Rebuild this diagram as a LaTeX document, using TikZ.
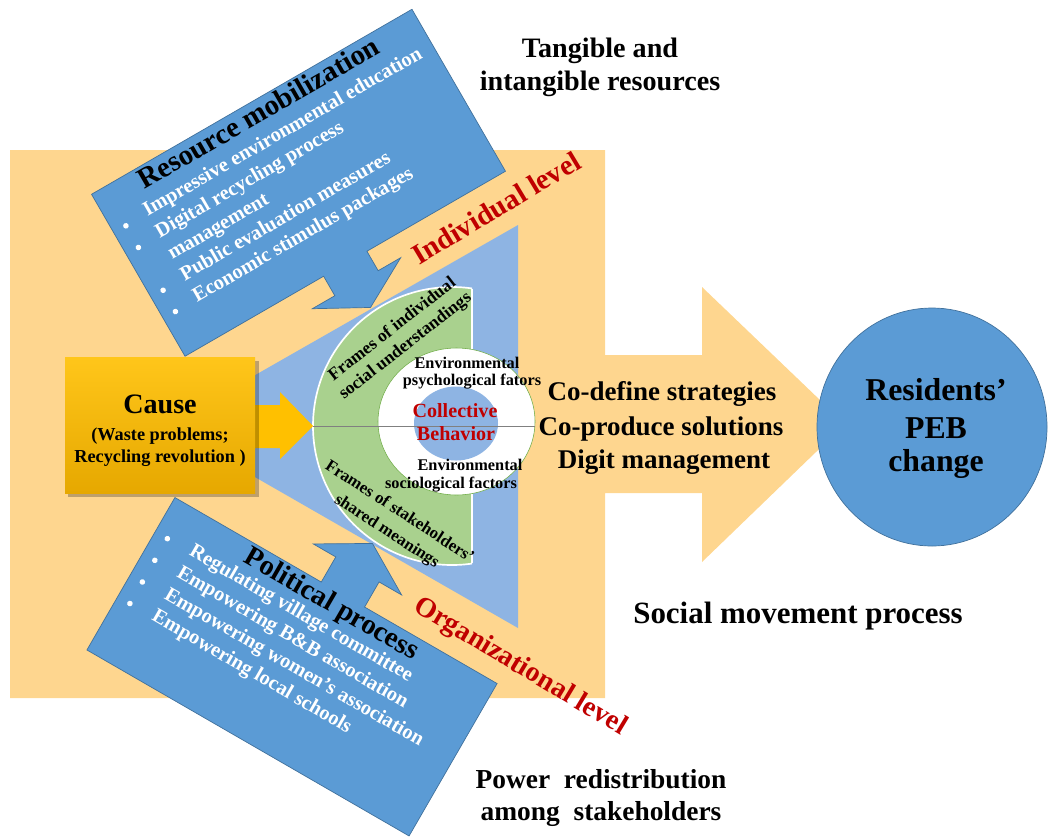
\documentclass[tikz,border=0pt]{standalone}
\usepackage{fontspec}
\setmainfont{Liberation Serif}
\definecolor{orangebg}{HTML}{FED68F}
\definecolor{lightblue}{HTML}{8EB4E3}
\definecolor{boxblue}{HTML}{5B9BD5}
\definecolor{boxedge}{HTML}{41719C}
\definecolor{greenring}{HTML}{A9D18E}
\definecolor{greenedge}{HTML}{70AD47}
\definecolor{darkred}{HTML}{C00000}
\definecolor{goldtop}{HTML}{FFC61A}
\definecolor{goldbot}{HTML}{E6A800}
\definecolor{arrowgold}{HTML}{FFC000}
\newcommand{\myfs}[2]{\fontsize{#1}{#2}\selectfont}
\tikzset{
  txt/.style={inner sep=0pt, font=\bfseries},
  wtxt/.style={txt, text=white, anchor=base west},
  rtxt/.style={txt, text=darkred},
  bul/.style={fill=white},
  callout/.style={fill=boxblue, draw=boxedge, line width=0.5pt},
}
\begin{document}
\begin{tikzpicture}[x=0.025cm,y=-0.025cm]
\useasboundingbox (0,0) rectangle (1049,836);
\clip (0,0) rectangle (1049,836);

% orange background with big arrow
\fill[orangebg] (10,150) -- (605,150) -- (605,355) -- (702,355) -- (702,287) -- (845,424)
  -- (702,562) -- (702,493) -- (605,493) -- (605,698) -- (10,698) -- cycle;

% light blue triangle
\fill[lightblue] (166,426) -- (518,225) -- (518,628) -- cycle;

% green half disc
\begin{scope}
  \clip (300,270) rectangle (472,590);
  \fill[greenring] (452,426) circle (139);
  \draw[white, line width=1.2pt] (452,426) circle (139);
\end{scope}
\draw[white, line width=0.8pt] (472,289) -- (472,563);

% white circle and blue inner
\filldraw[fill=white, draw=greenedge, line width=0.4pt] (456.5,421.5) ellipse [x radius=78.5, y radius=73.5];
\fill[lightblue] (456,423.5) ellipse [x radius=42, y radius=37];
\coordinate (lineL) at (313,426);
\coordinate (lineR) at (535,426);
\draw[gray, line width=0.7pt] (lineL) -- (lineR);

% yellow arrow
\fill[arrowgold] (240,405) -- (280,405) -- (280,392) -- (313,426) -- (280,459) -- (280,448) -- (240,448) -- cycle;

% cause box
\fill[black, opacity=0.25] (68,361) rectangle (259,497);
\shade[top color=goldtop, bottom color=goldbot] (65,357) rectangle (255,493);
\node[txt, anchor=base, font=\bfseries\myfs{20}{24}] (cause) at (160,413) {Cause};
\node[txt, anchor=base, font=\bfseries\myfs{13}{16}] (cause1) at (160,440) {(Waste problems;};
\node[txt, anchor=base, font=\bfseries\myfs{13}{16}] (cause2) at (160,462) {Recycling revolution )};

% inner labels
\node[txt, align=center, rotate=38, font=\bfseries\myfs{12.5}{15}] (frind) at (399,338) {Frames of individual\\social understandings};
\node[txt, align=center, rotate=-33, font=\bfseries\myfs{12}{16.5}] (frstk) at (393,522) {Frames of stakeholders’\\shared meanings};
\node[txt, anchor=base, font=\bfseries\myfs{11.6}{14}] (envp1) at (467,368) {Environmental};
\node[txt, anchor=base, font=\bfseries\myfs{11.6}{14}] (envp2) at (472,385) {psychological fators};
\node[txt, anchor=base, font=\bfseries\myfs{11.6}{14}] (envs1) at (470,470) {Environmental};
\node[txt, anchor=base, font=\bfseries\myfs{11.6}{14}] (envs2) at (451,488) {sociological factors};
\node[rtxt, anchor=base, font=\bfseries\myfs{14.3}{17}] (coll1) at (455,417) {Collective};
\node[rtxt, anchor=base, font=\bfseries\myfs{14.3}{17}] (coll2) at (456,440) {Behavior};

% resource mobilization callout
\begin{scope}[shift={(298.5,182.75)}, rotate=30]
  \draw[callout] (-185,-93.5) -- (185,-93.5) -- (185,93.5) -- (25,93.5) -- (25,116) -- (51,116)
    -- (0,144) -- (-51,116) -- (-25,116) -- (-25,93.5) -- (-185,93.5) -- cycle;
  \node[txt, anchor=base, rotate=30, font=\bfseries\myfs{20.5}{24}] (restitle) at (0,-71) {Resource mobilization};
  \node[wtxt, rotate=30, font=\bfseries\myfs{14.6}{17}] (res1) at (-148,-46) {Impressive environmental education};
  \node[wtxt, rotate=30, font=\bfseries\myfs{14.6}{17}] (res2) at (-148,-21.2) {Digital recycling process};
  \node[wtxt, rotate=30, font=\bfseries\myfs{14.6}{17}] (res3) at (-148,3.6) {management};
  \node[wtxt, rotate=30, font=\bfseries\myfs{14.6}{17}] (res4) at (-148,28.4) {Public evaluation measures};
  \node[wtxt, rotate=30, font=\bfseries\myfs{14.6}{17}] (res5) at (-148,53.2) {Economic stimulus packages};
  \fill[bul] (-171,-49) circle (2.8);
  \fill[bul] (-171,-24) circle (2.8);
  \fill[bul] (-171,25.4) circle (2.8);
  \fill[bul] (-171,50) circle (2.8);
\end{scope}

% political process callout
\begin{scope}[shift={(292,666.75)}, rotate=-30]
  \draw[callout] (-186,-88) -- (-17,-88) -- (-17,-117) -- (-43,-117) -- (8,-147) -- (59,-117)
    -- (33,-117) -- (33,-88) -- (186,-88) -- (186,88) -- (-186,88) -- cycle;
  \node[txt, anchor=base, rotate=-30, font=\bfseries\myfs{20.3}{24}] (poltitle) at (3,-66) {Political process};
  \node[wtxt, rotate=-30, font=\bfseries\myfs{14.6}{17}] (pol1) at (-146,-45) {Regulating village committee};
  \node[wtxt, rotate=-30, font=\bfseries\myfs{14.6}{17}] (pol2) at (-146,-20) {Empowering B\&B association};
  \node[wtxt, rotate=-30, font=\bfseries\myfs{14.6}{17}] (pol3) at (-146,5) {Empowering women’s association};
  \node[wtxt, rotate=-30, font=\bfseries\myfs{14.6}{17}] (pol4) at (-146,30) {Empowering local schools};
  \fill[bul] (-172,-48.6) circle (2.8);
  \fill[bul] (-172,-23.6) circle (2.8);
  \fill[bul] (-172,1.4) circle (2.8);
  \fill[bul] (-172,26.3) circle (2.8);
\end{scope}

% level labels
\node[rtxt, rotate=31, font=\bfseries\myfs{20.5}{24}] (indiv) at (496,208) {Individual level};
\node[rtxt, rotate=-31, font=\bfseries\myfs{20}{24}] (organ) at (520,667) {Organizational level};

% big circle
\filldraw[fill=boxblue, draw=boxedge, line width=0.5pt] (932,427) ellipse [x radius=115, y radius=119];
\node[txt, anchor=base, font=\bfseries\myfs{22.6}{27}] (res) at (936,400) {Residents’};
\node[txt, anchor=base, font=\bfseries\myfs{22.6}{27}] (peb) at (936,438) {PEB};
\node[txt, anchor=base, font=\bfseries\myfs{22.6}{27}] (chg) at (936,471) {change};

% arrow texts
\node[txt, anchor=base, font=\bfseries\myfs{19.2}{23}] (codef) at (662,400) {Co-define strategies};
\node[txt, anchor=base, font=\bfseries\myfs{19.2}{23}] (coprod) at (661,435) {Co-produce solutions};
\node[txt, anchor=base, font=\bfseries\myfs{19.2}{23}] (digit) at (664,468) {Digit management};

% outer captions
\node[txt, anchor=base, font=\bfseries\myfs{20}{24}] (tang1) at (600,57) {Tangible and};
\node[txt, anchor=base, font=\bfseries\myfs{20}{24}] (tang2) at (600,90) {intangible resources};
\node[txt, anchor=base, font=\bfseries\myfs{22}{26}] (smp) at (798,623) {Social movement process};
\node[txt, anchor=base, font=\bfseries\myfs{19.5}{24}] (pow1) at (601,788) {Power\ \ redistribution};
\node[txt, anchor=base, font=\bfseries\myfs{19.5}{24}] (pow2) at (601,820) {among\ \ stakeholders};
\end{tikzpicture}
\end{document}
